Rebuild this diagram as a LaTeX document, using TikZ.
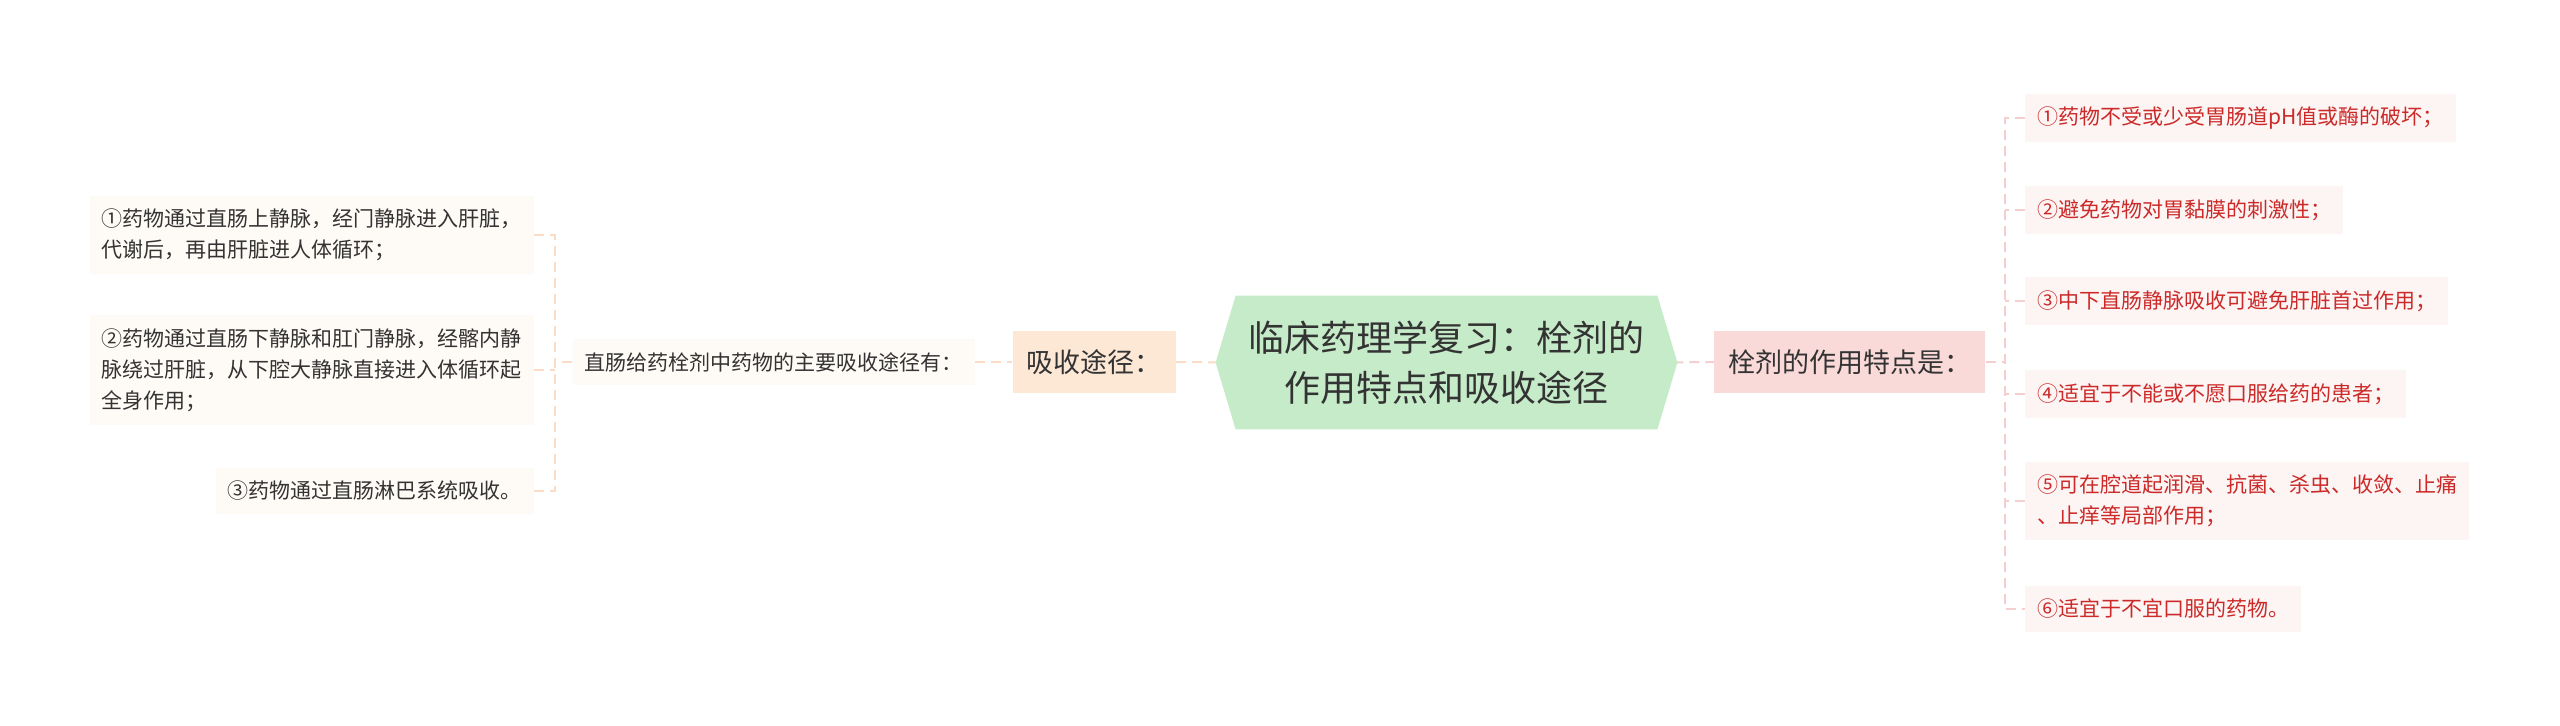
\documentclass[tikz,border=0pt]{standalone}
\usepackage{fontspec}
\setmainfont{Noto Sans CJK SC}
\usetikzlibrary{backgrounds,calc}
\definecolor{hexfill}{HTML}{C6EBC9}
\definecolor{rmfill}{HTML}{FAD9D9}
\definecolor{lmfill}{HTML}{FDE8D6}
\definecolor{lsfill}{HTML}{FEFAF5}
\definecolor{leafLfill}{HTML}{FEFAF5}
\definecolor{leafRfill}{HTML}{FDF4F4}
\definecolor{lineL}{HTML}{FBDCC6}
\definecolor{lineR}{HTML}{F5CFCF}
\definecolor{redtext}{HTML}{CC2A28}
\definecolor{darktext}{HTML}{333333}
\tikzset{
  leafL/.style={fill=leafLfill, text=darktext, font=\fontsize{10.5}{15.5}\selectfont, align=left, inner xsep=6pt, inner ysep=6.5pt, anchor=east},
  leafR/.style={fill=leafRfill, text=redtext, font=\fontsize{10.5}{15.5}\selectfont, align=left, inner xsep=6pt, inner ysep=6.5pt, anchor=west},
  midbox/.style={text=darktext, font=\fontsize{13.5}{16}\selectfont, inner xsep=7pt, inner ysep=9pt},
  subbox/.style={fill=lsfill, text=darktext, font=\fontsize{10.5}{15.5}\selectfont, inner xsep=6pt, inner ysep=6.5pt, anchor=east},
  hexbox/.style={text=darktext, font=\fontsize{18}{25}\selectfont, align=center, minimum width=210.5pt, minimum height=66.5pt, inner sep=0pt},
  connL/.style={draw=lineL, line width=1pt, dash pattern=on 5pt off 3pt},
  connR/.style={draw=lineR, line width=1pt, dash pattern=on 5pt off 3pt}
}
\begin{document}
\begin{tikzpicture}[x=0.5pt,y=-0.5pt]
\useasboundingbox (0,0) rectangle (2560,725);
% central
\node[hexbox] (c) at (1446.5,362.5) {临床药理学复习：栓剂的\\作用特点和吸收途径};
% right mid
\node[midbox, fill=rmfill, anchor=west] (rm) at (1714,362) {栓剂的作用特点是：};
% left mid
\node[midbox, fill=lmfill, anchor=east] (lm) at (1176,362) {吸收途径：};
\node[subbox] (ls) at (975,362) {直肠给药栓剂中药物的主要吸收途径有：};
% left leaves
\node[leafL] (l1) at (534,235) {①药物通过直肠上静脉，经门静脉进入肝脏，\\代谢后，再由肝脏进人体循环；};
\node[leafL] (l2) at (534,370) {②药物通过直肠下静脉和肛门静脉，经髂内静\\脉绕过肝脏，从下腔大静脉直接进入体循环起\\全身作用；};
\node[leafL] (l3) at (534,491) {③药物通过直肠淋巴系统吸收。};
% right leaves
\node[leafR] (r1) at (2025,118) {①药物不受或少受胃肠道pH值或酶的破坏；};
\node[leafR] (r2) at (2025,210) {②避免药物对胃黏膜的刺激性；};
\node[leafR] (r3) at (2025,301) {③中下直肠静脉吸收可避免肝脏首过作用；};
\node[leafR] (r4) at (2025,394) {④适宜于不能或不愿口服给药的患者；};
\node[leafR] (r5) at (2025,501) {⑤可在腔道起润滑、抗菌、杀虫、收敛、止痛\\、止痒等局部作用；};
\node[leafR] (r6) at (2025,609) {⑥适宜于不宜口服的药物。};
\coordinate (lb) at (555,362);
\coordinate (rb) at (2005,362);
\begin{scope}[on background layer]
  \path[connL] (lm.east) -- (c.west);
  \path[connL] (ls.east) -- (lm.west);
  \path[connL] (ls.west) -- (lb);
  \path[connL] (l1.east) -- (l1.east -| lb) -- (l3.east -| lb) -- (l3.east);
  \path[connL] (l2.east) -- (l2.east -| lb);
  \path[connR] (c.east) -- (rm.west);
  \path[connR] (rm.east) -- (rb);
  \path[connR] (r1.west) -- (r1.west -| rb) -- (r6.west -| rb) -- (r6.west);
  \foreach \n in {r2,r3,r4,r5} { \path[connR] (\n.west) -- (\n.west -| rb); }
  \fill[hexfill] (c.north west) -- (c.north east) -- ($(c.east)+(20,0)$) -- (c.south east) -- (c.south west) -- ($(c.west)+(-20,0)$) -- cycle;
\end{scope}
\end{tikzpicture}
\end{document}
